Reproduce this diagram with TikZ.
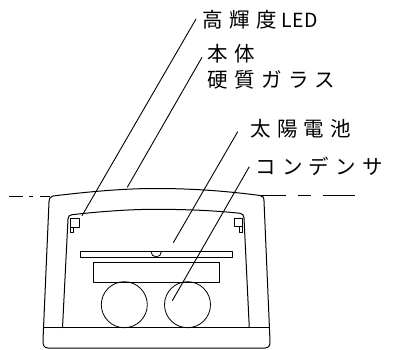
\documentclass[tikz,border=0pt]{standalone}
\usepackage{fontspec}
\setmainfont{Noto Sans CJK JP}[LetterSpace=31]
\tikzset{
  part/.style={line width=1pt,line join=round},
  thinpart/.style={line width=0.8pt,line join=round},
  leader/.style={line width=0.9pt},
  callout/.style={anchor=west,inner sep=0pt,font=\fontsize{20.5}{20.5}\selectfont,text=black},
}
\begin{document}
\begin{tikzpicture}[x=1pt,y=-1pt]
\useasboundingbox (0,0) rectangle (394,350);
% labels
\node[callout] (led) at (202.5,20) {高輝度\hspace{5pt}{\fontspec{Noto Sans CJK JP}[LetterSpace=1,Scale=0.95]LED}};
\node[callout] (body) at (207.5,54) {本体};
\node[callout] (glass) at (207.5,80) {硬質ガラス};
\node[callout] (solar) at (250,129) {太陽電池};
\node[callout] (cap) at (255,166) {コンデンサ};
% outer housing
\draw[part] (49,202) -- (43,340) .. controls (42.7,345) and (44,348) .. (48,348)
  -- (265,348) .. controls (269,348) and (270.3,345) .. (270,341)
  -- (264,201) .. controls (263.8,197) and (263,196) .. (260,195.5)
  .. controls (215,189.5) and (180,188.5) .. (155,188.5)
  .. controls (125,188.5) and (90,191.5) .. (53,196)
  .. controls (50.5,196.5) and (49.2,198) .. (49,202);
\draw[part] (43,327.3) -- (270,327.3);
% inner housing
\draw[part] (62.5,328) -- (68,219) .. controls (68.2,216) and (69.5,215) .. (72,214.7)
  .. controls (100,211.5) and (130,209.3) .. (155,209.3)
  .. controls (185,209.3) and (215,210.5) .. (240,213.3)
  .. controls (242.5,213.7) and (243.8,215) .. (244,218) -- (249.3,328);
% lamp brackets
\draw[thinpart] (70.5,218) rectangle (79,227);
\draw[thinpart] (70.5,227) -- (70.5,232) -- (73,232) -- (73,227);
\draw[thinpart] (234,218) rectangle (242.7,226.7);
\draw[thinpart] (239.5,226.7) -- (239.5,232) -- (242.7,232) -- (242.7,226.7);
% solar cell plate and bump
\draw[part] (80.3,251.7) rectangle (232,257.3);
\draw[thinpart] (151,251.7) arc[start angle=180,end angle=0,radius=5.2];
% capacitor block and circles
\draw[part] (93,262) rectangle (219.7,282.3);
\draw[thinpart] (124.3,304.7) circle[radius=23];
\draw[thinpart] (187.5,304.7) circle[radius=23];
% base line dashes
\draw[part] (9.3,196.7) -- (23.3,196.7) (29.3,196.7) -- (33.3,196.7) (40,196.7) -- (50,196.7);
\draw[part] (261,195.5) -- (285.7,195.5) (298,195.5) -- (311.3,195.5) (323.3,195.5) -- (354.7,195.5);
% leaders
\coordinate (ledfrom) at (196,19);
\coordinate (ledto) at (82,215.7);
\coordinate (bodyfrom) at (202,57.3);
\coordinate (bodyto) at (127.3,187.3);
\coordinate (solarfrom) at (237.7,131.7);
\coordinate (solarto) at (173.3,242.7);
\coordinate (capfrom) at (249.3,166.7);
\coordinate (capto) at (172.3,300.7);
\draw[leader] (ledfrom) -- (ledto);
\draw[leader] (bodyfrom) -- (bodyto);
\draw[leader] (solarfrom) -- (solarto);
\draw[leader] (capfrom) -- (capto);
\end{tikzpicture}
\end{document}
